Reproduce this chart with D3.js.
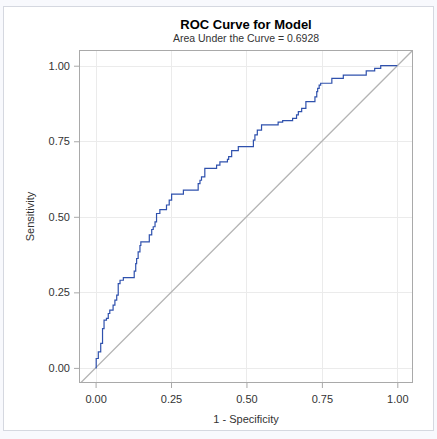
<!DOCTYPE html>
<html><head><meta charset="utf-8">
<script src="https://cdn.jsdelivr.net/npm/d3@7"></script>
<style>
html,body{margin:0;padding:0;background:#f8f9fd;}
svg{display:block;font-family:"Liberation Sans",Arial,sans-serif;}
</style></head>
<body>
<svg id="c" width="437" height="439"></svg>
<script>
const title = "ROC Curve for Model";
const subtitle = "Area Under the Curve = 0.6928";
const xLabel = "1 - Specificity";
const yLabel = "Sensitivity";
const tickValues = [0, 0.25, 0.5, 0.75, 1.0];
const tickLabels = ["0.00", "0.25", "0.50", "0.75", "1.00"];
// ROC points (1 - specificity, sensitivity)
const fpr = [0, 0.002, 0.009, 0.017, 0.023, 0.028, 0.036, 0.042, 0.047, 0.058, 0.064, 0.070, 0.075, 0.081, 0.092, 0.123,
  0.128, 0.133, 0.136, 0.141, 0.147, 0.150, 0.169, 0.178, 0.186, 0.191, 0.197, 0.202, 0.213, 0.230, 0.235, 0.244, 0.252,
  0.288, 0.291, 0.335, 0.340, 0.346, 0.351, 0.362, 0.393, 0.401, 0.410, 0.412, 0.432, 0.437, 0.441, 0.451, 0.473, 0.519,
  0.523, 0.528, 0.536, 0.545, 0.550, 0.602, 0.605, 0.620, 0.650, 0.653, 0.666, 0.672, 0.683, 0.694, 0.697, 0.721, 0.727,
  0.733, 0.736, 0.741, 0.746, 0.780, 0.783, 0.819, 0.821, 0.895, 0.897, 0.923, 0.925, 0.943, 0.945, 1.0];
const tpr = [0, 0.031, 0.053, 0.081, 0.130, 0.158, 0.164, 0.180, 0.191, 0.208, 0.224, 0.241, 0.279, 0.290, 0.299, 0.299,
  0.320, 0.345, 0.362, 0.384, 0.405, 0.417, 0.417, 0.440, 0.458, 0.467, 0.483, 0.511, 0.524, 0.524, 0.539, 0.555, 0.575,
  0.575, 0.588, 0.588, 0.610, 0.621, 0.632, 0.660, 0.660, 0.671, 0.671, 0.682, 0.682, 0.690, 0.699, 0.719, 0.732, 0.732,
  0.754, 0.771, 0.787, 0.787, 0.804, 0.804, 0.813, 0.818, 0.818, 0.826, 0.837, 0.848, 0.859, 0.859, 0.881, 0.881, 0.897,
  0.914, 0.925, 0.936, 0.942, 0.942, 0.958, 0.958, 0.969, 0.969, 0.983, 0.983, 0.991, 0.991, 1.0, 1.0];

const svg = d3.select("#c");
// outer panel
svg.append("rect").attr("x", 3.5).attr("y", 6.5).attr("width", 430).attr("height", 424)
  .attr("fill", "#ffffff").attr("stroke", "#d5d8e0");

const L = 79, R = 413, T = 50, B = 383;
const x = d3.scaleLinear().domain([-0.055, 1.052]).range([L, R]);
const y = d3.scaleLinear().domain([-0.05, 1.052]).range([B, T]);

svg.append("defs").append("clipPath").attr("id", "clip")
  .append("rect").attr("x", L).attr("y", T).attr("width", R - L).attr("height", B - T);

// grid
const g = svg.append("g");
g.selectAll(".vx").data(tickValues).join("line")
  .attr("x1", d => Math.round(x(d)) + 0.5).attr("x2", d => Math.round(x(d)) + 0.5)
  .attr("y1", T).attr("y2", B).attr("stroke", "#ebebeb");
g.selectAll(".hy").data(tickValues).join("line")
  .attr("y1", d => Math.round(y(d)) + 0.5).attr("y2", d => Math.round(y(d)) + 0.5)
  .attr("x1", L).attr("x2", R).attr("stroke", "#ebebeb");

// diagonal
svg.append("line").attr("clip-path", "url(#clip)")
  .attr("x1", x(-0.1)).attr("y1", y(-0.1)).attr("x2", x(1.1)).attr("y2", y(1.1))
  .attr("stroke", "#b4b4b4").attr("stroke-width", 1.3);

// ROC curve
const pts = fpr.map((f, i) => [f, tpr[i]]);
svg.append("path").datum(pts)
  .attr("d", d3.line().x(d => x(d[0])).y(d => y(d[1])).curve(d3.curveStepAfter))
  .attr("fill", "none").attr("stroke", "#2f51ad").attr("stroke-width", 1.2);

// frame
svg.append("rect").attr("x", L + 0.5).attr("y", T + 0.5).attr("width", R - L - 1).attr("height", B - T - 1)
  .attr("fill", "none").attr("stroke", "#a9a9a9");

// axes
const fmt = d => tickLabels[tickValues.indexOf(d)];
const xAxis = svg.append("g").attr("transform", `translate(0,${B})`)
  .call(d3.axisBottom(x).tickValues(tickValues).tickFormat(fmt).tickSize(5).tickSizeOuter(0));
const yAxis = svg.append("g").attr("transform", `translate(${L},0)`)
  .call(d3.axisLeft(y).tickValues(tickValues).tickFormat(fmt).tickSize(5).tickSizeOuter(0));
[xAxis, yAxis].forEach(a => {
  a.select(".domain").remove();
  a.selectAll(".tick line").attr("stroke", "#a9a9a9");
  a.selectAll(".tick text").attr("fill", "#333333").attr("font-size", 11)
    .attr("font-family", "Liberation Sans, Arial, sans-serif");
});
xAxis.selectAll(".tick text").attr("dy", null).attr("y", 20);
yAxis.selectAll(".tick text").attr("x", -9);

// titles
svg.append("text").attr("x", (L + R) / 2).attr("y", 29).attr("text-anchor", "middle")
  .attr("font-size", 13).attr("font-weight", "bold").attr("fill", "#000").text(title);
svg.append("text").attr("x", (L + R) / 2).attr("y", 41.5).attr("text-anchor", "middle")
  .attr("font-size", 10.5).attr("fill", "#333").text(subtitle);
svg.append("text").attr("x", (L + R) / 2).attr("y", 423).attr("text-anchor", "middle")
  .attr("font-size", 11).attr("fill", "#333").text(xLabel);
svg.append("text").attr("transform", `translate(34,${(T + B) / 2}) rotate(-90)`).attr("text-anchor", "middle")
  .attr("font-size", 11).attr("fill", "#333").text(yLabel);
</script>
</body></html>
